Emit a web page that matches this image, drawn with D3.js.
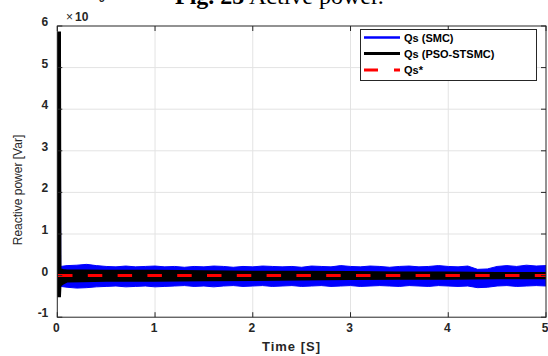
<!DOCTYPE html>
<html><head><meta charset="utf-8">
<script src="https://cdn.jsdelivr.net/npm/d3@7"></script>
<style>body{margin:0;background:#fff}svg{display:block}text{font-family:"Liberation Sans",Arial,sans-serif}</style>
</head><body><svg id="c" width="548" height="356"></svg>
<script>
const xTicks=[0,1,2,3,4,5];
const yTicks=[-1,0,1,2,3,4,5,6];
const seriesNames=["Qs (SMC)","Qs (PSO-STSMC)","Qs*"];
const blueTime=[0.025,0.03,0.035,0.1,0.2,0.3,0.4,0.5,0.6,0.7,0.8,0.9,1.0,1.1,1.2,1.3,1.4,1.5,1.6,1.7,1.8,1.9,2.0,2.1,2.2,2.3,2.4,2.5,2.6,2.7,2.8,2.9,3.0,3.1,3.2,3.3,3.4,3.5,3.6,3.7,3.8,3.9,4.0,4.1,4.2,4.3,4.4,4.5,4.6,4.7,4.8,4.9,5.0];
const blueUpper=[5.8,5.8,0.22,0.24,0.25,0.27,0.24,0.22,0.21,0.23,0.21,0.22,0.23,0.21,0.22,0.2,0.22,0.21,0.23,0.22,0.2,0.22,0.21,0.23,0.22,0.21,0.22,0.2,0.23,0.22,0.21,0.24,0.22,0.21,0.23,0.22,0.2,0.22,0.23,0.21,0.22,0.24,0.22,0.21,0.23,0.15,0.16,0.22,0.24,0.22,0.25,0.23,0.24];
const blueLower=[-0.2,-0.26,-0.26,-0.28,-0.3,-0.29,-0.27,-0.26,-0.25,-0.27,-0.26,-0.25,-0.27,-0.26,-0.25,-0.24,-0.26,-0.25,-0.27,-0.25,-0.24,-0.26,-0.25,-0.24,-0.26,-0.25,-0.24,-0.26,-0.25,-0.24,-0.26,-0.25,-0.24,-0.26,-0.25,-0.24,-0.25,-0.26,-0.24,-0.25,-0.26,-0.24,-0.25,-0.26,-0.25,-0.29,-0.28,-0.25,-0.24,-0.26,-0.25,-0.24,-0.25];
const blackTime=[0,0.03,0.035,0.06,0.1,0.25,0.5,1,1.5,2,2.5,3,3.5,4,4.5,5];
const blackUpper=[5.85,5.85,0.15,0.14,0.13,0.13,0.12,0.12,0.11,0.1,0.1,0.09,0.08,0.08,0.07,0.07];
const blackLower=[-0.5,-0.5,-0.24,-0.2,-0.15,-0.14,-0.13,-0.13,-0.12,-0.11,-0.1,-0.09,-0.08,-0.08,-0.07,-0.07];
const refTime=[0,5];
const refValue=[0,0];

const svg=d3.select("#c");
const L=57.3,R=546,T=26,B=317.2;
const x=d3.scaleLinear().domain([0,5]).range([L,R]);
const y=d3.scaleLinear().domain([-1,6]).range([B,T]);

// title (clipped at top, as in the reference)
const title=svg.append("text").attr("x",175).attr("y",4).attr("font-family","'Liberation Serif','Times New Roman',serif").attr("font-size",24).attr("fill","#000");
title.append("tspan").attr("font-weight","bold").attr("font-family","'Liberation Serif',serif").text("Fig. 25");
title.append("tspan").attr("font-family","'Liberation Serif',serif").text(" Active power.");

// grid
const g=svg.append("g");
g.selectAll(".gx").data(xTicks.slice(1,-1)).enter().append("line").attr("x1",d=>x(d)).attr("x2",d=>x(d)).attr("y1",T).attr("y2",B).attr("stroke","#e3e3e3").attr("stroke-width",1);
g.selectAll(".gy").data(yTicks.slice(1,-1)).enter().append("line").attr("x1",L).attr("x2",R).attr("y1",d=>y(d)).attr("y2",d=>y(d)).attr("stroke","#e3e3e3").attr("stroke-width",1);

// data
svg.append("clipPath").attr("id","pc").append("rect").attr("x",L).attr("y",T).attr("width",R-L).attr("height",B-T);
const pg=svg.append("g").attr("clip-path","url(#pc)");
const blueData=blueTime.map((t,i)=>({t,u:blueUpper[i],l:blueLower[i]}));
const blackData=blackTime.map((t,i)=>({t,u:blackUpper[i],l:blackLower[i]}));
const area=d3.area().x(d=>x(d.t)).y0(d=>y(d.l)).y1(d=>y(d.u));
pg.append("path").datum(blueData).attr("d",area).attr("fill","#0000ff").attr("stroke","#0000ff").attr("stroke-width",1);
pg.append("path").datum(blackData).attr("d",area).attr("fill","#000").attr("stroke","#000").attr("stroke-width",1.5);
const refData=refTime.map((t,i)=>({t,v:refValue[i]}));
pg.append("path").datum(refData).attr("d",d3.line().x(d=>x(d.t)+0.7).y(d=>y(d.v))).attr("fill","none").attr("stroke","#ff0000").attr("stroke-width",3).attr("stroke-dasharray","14.5,15.3");

// frame
svg.append("rect").attr("x",L).attr("y",T).attr("width",R-L).attr("height",B-T).attr("fill","none").attr("stroke","#262626").attr("stroke-width",1);
const tk=svg.append("g").attr("stroke","#262626");
xTicks.forEach(d=>{tk.append("line").attr("x1",x(d)).attr("x2",x(d)).attr("y1",B).attr("y2",B-5);tk.append("line").attr("x1",x(d)).attr("x2",x(d)).attr("y1",T).attr("y2",T+5);});
yTicks.forEach(d=>{tk.append("line").attr("x1",L).attr("x2",L+5).attr("y1",y(d)).attr("y2",y(d));tk.append("line").attr("x1",R).attr("x2",R-5).attr("y1",y(d)).attr("y2",y(d));});

// tick labels
svg.selectAll(".xl").data(xTicks).enter().append("text").attr("x",d=>x(d)-1).attr("y",B+15).attr("text-anchor","middle").attr("font-size",12).attr("font-weight","bold").attr("fill","#262626").text(d=>d);
svg.selectAll(".yl").data(yTicks).enter().append("text").attr("x",L-9).attr("y",d=>y(d)).attr("text-anchor","end").attr("font-size",12).attr("font-weight","bold").attr("fill","#262626").text(d=>d);
// exponent
const ex=svg.append("text").attr("x",66).attr("y",21).attr("font-size",12).attr("font-weight","bold").attr("fill","#262626");
ex.append("tspan").attr("font-weight","normal").text("\u00d7");
ex.append("tspan").attr("dx",2).text("10");
svg.append("text").attr("x",99).attr("y",2).attr("font-size",10).attr("font-weight","bold").attr("fill","#262626").text("5");

// axis labels
svg.append("text").attr("x",291).attr("y",351).attr("text-anchor","middle").attr("font-size",13).attr("font-weight","bold").attr("fill","#262626").attr("textLength",58).attr("lengthAdjust","spacing").text("Time [S]");
svg.append("text").attr("transform","translate(22,190) rotate(-90)").attr("text-anchor","middle").attr("font-size",12).attr("fill","#262626").text("Reactive power [Var]");

// legend
const lg=svg.append("g");
lg.append("rect").attr("x",360.5).attr("y",29.5).attr("width",176).attr("height",51).attr("fill","#fff").attr("stroke","#262626").attr("stroke-width",1);
const lc=["#0000ff","#000000","#ff0000"], lw=[2.5,3,3], ly=[37.5,53.5,70];
seriesNames.forEach((n,i)=>{
  const ln=lg.append("line").attr("x1",364).attr("x2",400).attr("y1",ly[i]).attr("y2",ly[i]).attr("stroke",lc[i]).attr("stroke-width",lw[i]);
  if(i===2) ln.attr("stroke-dasharray","14,16");
  lg.append("text").attr("x",404).attr("y",ly[i]+4).attr("font-size",11).attr("font-weight","bold").attr("fill","#000").text(n);
});
</script></body></html>
